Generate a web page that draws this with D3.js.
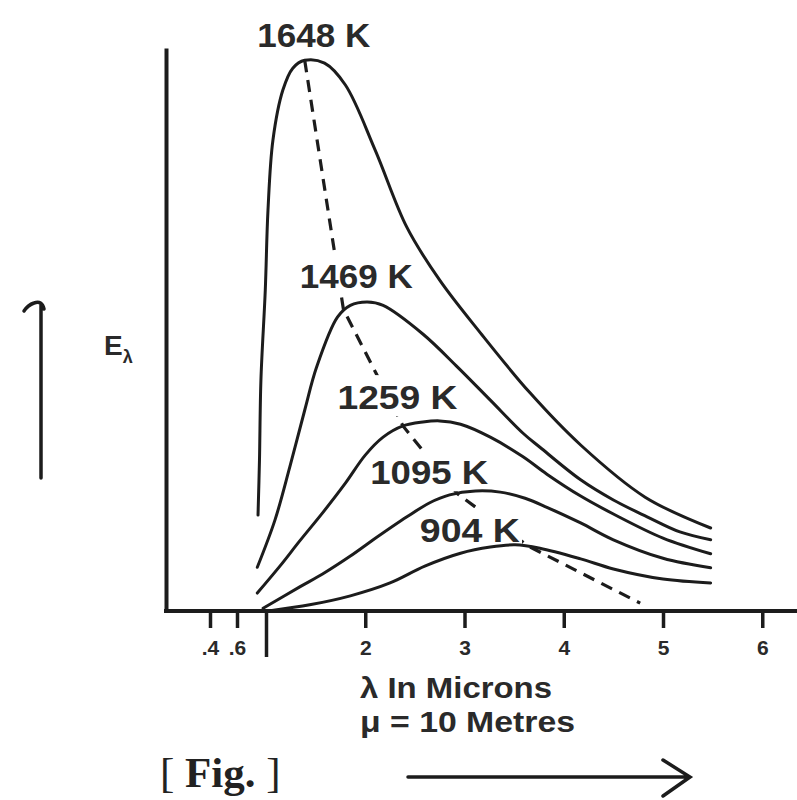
<!DOCTYPE html>
<html><head><meta charset="utf-8">
<script src="https://cdn.jsdelivr.net/npm/d3@7/dist/d3.min.js"></script>
<style>body{margin:0;background:#fff}svg{display:block}</style>
</head><body><svg id="chart" width="797" height="800"></svg>
<script>
// ---------- data (λ in microns, Eλ in arbitrary units 0–100) ----------
const temperatures = ["1648 K", "1469 K", "1259 K", "1095 K", "904 K"];
const curve1648 = [[0.89,17.1],[0.91,26.9],[0.93,41.2],[0.99,57.2],[1.02,71.5],[1.07,84.0],[1.17,92.9],[1.27,96.8],[1.39,98.2],[1.59,97.7],[1.80,93.8],[2.10,82.2],[2.42,68.4],[2.75,59.0],[3.16,49.6],[3.66,38.9],[4.17,29.6],[4.82,20.3],[5.48,14.8]];
const curve1469 = [[0.88,7.8],[1.09,16.2],[1.24,25.7],[1.39,35.8],[1.51,43.5],[1.72,52.4],[1.85,54.5],[2.02,55.1],[2.18,54.5],[2.58,49.4],[2.93,43.5],[3.26,37.6],[3.59,31.7],[3.76,29.2],[4.17,23.4],[4.50,19.8],[4.84,16.8],[5.17,14.1],[5.48,12.7]];
const curve1259 = [[0.88,3.2],[1.14,8.0],[1.34,12.5],[1.57,17.5],[1.80,22.8],[2.00,27.8],[2.18,31.0],[2.38,33.0],[2.58,33.7],[2.75,33.9],[2.96,33.3],[3.26,31.0],[3.59,27.5],[3.83,24.4],[4.17,20.5],[4.50,17.3],[5.00,13.0],[5.48,10.2]];
const curve1095 = [[0.96,0.5],[1.34,4.3],[1.57,6.6],[1.85,9.8],[2.08,12.7],[2.42,16.8],[2.65,19.3],[2.85,20.7],[3.11,21.4],[3.36,21.2],[3.61,20.1],[3.83,18.5],[4.17,15.7],[4.50,12.7],[5.00,9.4],[5.48,7.7]];
const curve904  = [[1.06,0.1],[1.44,1.1],[1.85,2.7],[2.25,5.0],[2.60,8.0],[2.96,10.3],[3.26,11.4],[3.51,11.8],[3.76,11.2],[4.17,9.3],[4.50,7.5],[5.00,5.7],[5.48,5.0]];
const seriesCurves = [curve1648, curve1469, curve1259, curve1095, curve904];
const wienLocus = [[1.39,98.2],[1.78,53.8],[2.38,33.0],[2.93,20.9],[3.64,11.6],[4.77,1.4]];
const tickValues = [0.4, 0.6, 1, 2, 3, 4, 5, 6];
const tickLabels = [".4", ".6", "", "2", "3", "4", "5", "6"];
const yTitle = "E", yTitleSub = "λ";
const xTitle = ["λ In Microns", "μ = 10 Metres"];
const caption = "[ Fig. ]";

// ---------- layout (annotation anchors in data units) ----------
const labelAnchors = [[0.88,100.5],[1.34,57.6],[1.72,36.0],[2.05,22.6],[2.55,12.3]];
const labelWidths = [113, 113, 120, 118, 100];

const svg = d3.select("#chart");
const W = 797, H = 800;
const ink = "#1c1c1c";
const sans = "'Liberation Sans', Arial, sans-serif";

const x = d3.scaleLinear().domain([0, 0.4, 0.6, 1, 6.35]).range([166, 210, 237, 266, 797]);
const y = d3.scaleLinear().domain([0, 100.4]).range([611, 48]);

// y axis
const yAxis = svg.append("g").attr("transform", `translate(${x(0)},0)`)
  .call(d3.axisLeft(y).tickValues([]).tickSizeOuter(0));
yAxis.select(".domain").attr("stroke", ink).attr("stroke-width", 4);

// x axis
const xAxis = svg.append("g").attr("transform", `translate(0,${y(0)})`)
  .call(d3.axisBottom(x).tickValues(tickValues).tickSize(17).tickSizeOuter(0)
        .tickFormat((d, i) => tickLabels[i]));
xAxis.select(".domain").attr("stroke", ink).attr("stroke-width", 4).attr("d", `M${x(0)-2},0H${W}`);
xAxis.selectAll(".tick line").attr("stroke", ink).attr("stroke-width", 3.5);
xAxis.selectAll(".tick").filter(d => d === 1).select("line").attr("y2", 46);
xAxis.selectAll(".tick text").attr("y", 29).attr("dy", "0.72em").attr("fill", "#2a2a2a")
  .attr("font-size", null).attr("font-family", null)
  .style("font-family", sans).style("font-size", "21px").style("font-weight", "bold");

// curves
const line = d3.line().x(d => x(d[0])).y(d => y(d[1])).curve(d3.curveCatmullRom.alpha(0.5));
svg.append("g").selectAll("path").data(seriesCurves).join("path")
  .attr("d", line).attr("fill", "none").attr("stroke", ink)
  .attr("stroke-width", 3).attr("stroke-linecap", "round");

// curve labels
const labels = svg.append("g").selectAll("text").data(temperatures).join("text")
  .attr("x", (d, i) => x(labelAnchors[i][0]))
  .attr("y", (d, i) => y(labelAnchors[i][1]))
  .attr("textLength", (d, i) => labelWidths[i])
  .attr("lengthAdjust", "spacingAndGlyphs")
  .attr("fill", "#2a2a2a")
  .style("font-family", sans)
  .style("font-size", "33px").style("font-weight", "bold")
  .text(d => d);

// mask for dashed locus (hidden around labels)
const defs = svg.append("defs");
const mask = defs.append("mask").attr("id", "lblmask").attr("maskUnits", "userSpaceOnUse")
  .attr("x", 0).attr("y", 0).attr("width", W).attr("height", H);
mask.append("rect").attr("width", W).attr("height", H).attr("fill", "#fff");
labels.each(function () {
  const b = this.getBBox();
  mask.append("rect").attr("x", b.x - 2).attr("y", b.y - 4).attr("width", b.width + 4)
    .attr("height", b.height + 4).attr("fill", "#000");
});
svg.append("path").datum(wienLocus)
  .attr("d", d3.line().x(d => x(d[0])).y(d => y(d[1])))
  .attr("fill", "none").attr("stroke", ink).attr("stroke-width", 3.2)
  .attr("stroke-dasharray", "12 8").attr("mask", "url(#lblmask)");

// y title
const yt = svg.append("text").attr("x", 104).attr("y", 355).attr("fill", "#2a2a2a")
  .style("font-family", sans).style("font-weight", "bold");
yt.append("tspan").style("font-size", "28px").text(yTitle);
yt.append("tspan").attr("dy", 8).style("font-size", "18px").text(yTitleSub);

// left arrow
svg.append("path").attr("d", "M41,478V304M44,309Q42,300 34,303Q28,305 24,311")
  .attr("fill", "none").attr("stroke", ink).attr("stroke-width", 3.5).attr("stroke-linecap", "round");

// x title
svg.append("g").selectAll("text").data(xTitle).join("text")
  .attr("x", 360).attr("y", (d, i) => 698 + i * 34)
  .attr("textLength", (d, i) => i === 0 ? 192 : 215).attr("lengthAdjust", "spacingAndGlyphs")
  .attr("fill", "#2a2a2a")
  .style("font-family", sans)
  .style("font-size", "29px").style("font-weight", "bold")
  .text(d => d);

// x arrow
svg.append("path").attr("d", "M408,777H688M663,760L690,777L663,796")
  .attr("fill", "none").attr("stroke", ink).attr("stroke-width", 3.5)
  .attr("stroke-linecap", "round").attr("stroke-linejoin", "miter");

// caption
const cap = svg.append("text").attr("x", 160).attr("y", 787).attr("fill", "#222")
  .style("font-family", "'Liberation Serif', 'DejaVu Serif', serif").style("font-size", "43px");
cap.append("tspan").text(caption.slice(0, 2));
cap.append("tspan").style("font-weight", "bold").text(caption.slice(2, 6));
cap.append("tspan").text(caption.slice(6));
</script></body></html>
